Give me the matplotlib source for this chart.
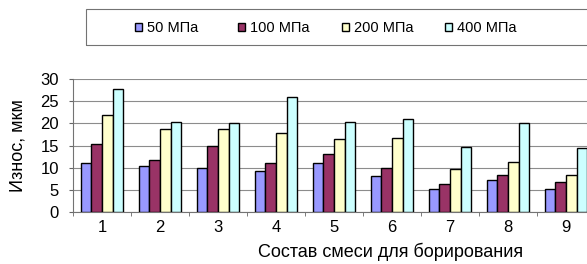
import numpy as np
import matplotlib
matplotlib.use("Agg")
import matplotlib.pyplot as plt
from matplotlib.patches import Rectangle

plt.rcParams["font.family"] = ["Liberation Sans", "DejaVu Sans"]

# ============================================================
#  Data
# ============================================================
categories = ["1", "2", "3", "4", "5", "6", "7", "8", "9"]
series_names = ["50 МПа", "100 МПа", "200 МПа", "400 МПа"]
wear_50 = [11.0, 10.4, 9.9, 9.2, 11.0, 8.2, 5.2, 7.1, 5.1]
wear_100 = [15.3, 11.8, 14.9, 11.0, 13.1, 9.8, 6.3, 8.3, 6.7]
wear_200 = [21.8, 18.8, 18.8, 17.9, 16.4, 16.6, 9.7, 11.3, 8.3]
wear_400 = [27.8, 20.4, 20.1, 26.1, 20.4, 21.0, 14.7, 20.1, 14.4]
series = [wear_50, wear_100, wear_200, wear_400]
colors = ["#9999FF", "#993366", "#FFFFCC", "#CCFFFF"]

W, H = 587, 264
fig = plt.figure(figsize=(W / 100, H / 100), dpi=100)

# axes extends a bit past the right edge (the original is cropped)
ax_l, ax_r, ax_t, ax_b = 73, 595, 79.3, 211.7
ax = fig.add_axes([ax_l / W, 1 - ax_b / H, (ax_r - ax_l) / W, (ax_b - ax_t) / H])

x = np.arange(len(categories))
bw = 1 / 5.5
bars = []
for i, (vals, col) in enumerate(zip(series, colors)):
    b = ax.bar(x - 1.5 * bw + i * bw, vals, width=bw, color=col,
               edgecolor="black", linewidth=1.0, zorder=3, label=series_names[i])
    bars.append(b)

ax.set_xlim(-0.5, len(categories) - 0.5)
ax.set_ylim(0, 30)
ax.set_yticks(np.arange(0, 31, 5))
ax.set_xticks(x)
ax.set_xticklabels(categories, fontsize=12)
ax.set_xticks(np.arange(-0.5, len(categories), 1), minor=True)
ax.tick_params(axis="x", which="major", length=0, pad=6)
ax.tick_params(axis="x", which="minor", length=3, direction="out", color="0.4")
ax.tick_params(axis="y", length=3, direction="out", color="0.4", labelsize=12, pad=7)
ax.grid(axis="y", color="0.55", lw=0.8, zorder=0)
for s in ["top", "right"]:
    ax.spines[s].set_visible(False)
ax.spines["left"].set_color("0.45")
ax.spines["bottom"].set_color("0.45")

ax.set_ylabel("Износ, мкм", fontsize=13)
ax.yaxis.set_label_coords(-(ax_l - 18.5) / (ax_r - ax_l), 0.5)
ax.set_xlabel("Состав смеси для борирования", fontsize=13)
ax.xaxis.set_label_coords((391 - ax_l) / (ax_r - ax_l), -(252 - ax_b) / (ax_b - ax_t))
ax.xaxis.label.set_va("center")
ax.yaxis.label.set_va("center")

# legend box (runs past the right edge too)
fig.patches.append(Rectangle((86 / W, 1 - 45 / H), (610 - 86) / W, 36 / H,
                             transform=fig.transFigure, fill=False,
                             edgecolor="0.45", lw=0.8))
leg_x = [135, 238, 342, 445]
for b, name, lx in zip(bars, series_names, leg_x):
    fig.legend(handles=[b], labels=[name], loc="center left",
               bbox_to_anchor=(lx / W, 1 - 28 / H), frameon=False,
               fontsize=10.5, handlelength=0.5, handleheight=0.5,
               handletextpad=0.35, borderpad=0, borderaxespad=0)

fig.savefig("out.png", dpi=100)
